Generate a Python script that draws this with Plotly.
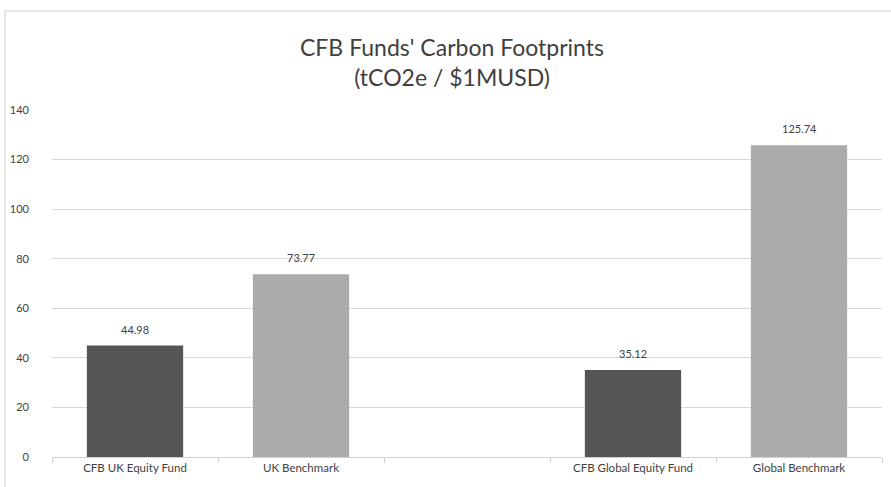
import plotly.graph_objects as go

categories = ["CFB UK Equity Fund", "UK Benchmark", " ", "CFB Global Equity Fund", "Global Benchmark"]
values = [44.98, 73.77, None, 35.12, 125.74]
labels = ["44.98", "73.77", "", "35.12", "125.74"]
colors = ["#555555", "#ababab", "#ffffff", "#555555", "#ababab"]
y_ticks = [0, 20, 40, 60, 80, 100, 120, 140]

W, H = 891, 487
ml, mr, mt, mb = 52, 9, 110, 30
pw, ph = W - ml - mr, H - mt - mb

fig = go.Figure(go.Bar(
    x=categories, y=values, marker=dict(color=colors, line=dict(width=0)),
))

for c, v, t in zip(categories, values, labels):
    if v is None:
        continue
    fig.add_annotation(x=c, y=v, text=t, showarrow=False, yanchor="bottom", yshift=8,
                       font=dict(family="Lato", size=11, color="#404040"))

def px_x(p):
    return (p - ml) / pw

def px_y(p):
    return (H - mb - p) / ph

fig.add_shape(type="rect", xref="paper", yref="paper",
              x0=px_x(5), x1=px_x(895), y0=px_y(495), y1=px_y(11),
              line=dict(color="#d0d0d0", width=1), layer="below")

fig.add_annotation(text="CFB Funds' Carbon Footprints<br>(tCO2e / $1MUSD)",
                   xref="paper", yref="paper", x=px_x(452), y=px_y(62),
                   xanchor="center", yanchor="middle",
                   showarrow=False, align="center",
                   font=dict(family="Lato", size=23, color="#404040"))

fig.update_layout(
    width=W, height=H, margin=dict(l=ml, r=mr, t=mt, b=mb),
    paper_bgcolor="white", plot_bgcolor="white", showlegend=False,
    bargap=0.42,
    xaxis=dict(type="category", showgrid=False, showline=True, linecolor="#d0d0d0",
               ticks="outside", tickson="boundaries", ticklen=5, tickcolor="#d0d0d0",
               tickfont=dict(family="Lato", size=11.5, color="#404040")),
    yaxis=dict(range=[0, 140], tickvals=y_ticks, showgrid=True, gridcolor="#d9d9d9",
               zeroline=False, showline=False, ticklabelstandoff=22,
               tickfont=dict(family="Lato", size=11, color="#404040")),
)

fig.write_html("out.html")
